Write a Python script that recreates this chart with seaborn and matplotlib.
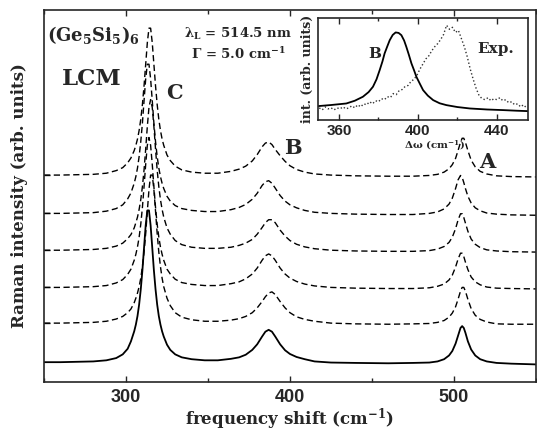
import matplotlib
matplotlib.use('Agg')
import matplotlib.pyplot as plt
import seaborn as sns
import numpy as np
from matplotlib.ticker import MultipleLocator, NullLocator

# frequency grid (cm-1) shared by all spectra of the main panel
shift = [250, 260, 270, 280, 288, 294, 298, 301, 303, 305,
         306, 307, 308, 309, 310, 311, 312, 313, 314, 315, 316, 317, 318, 319, 320, 321, 322, 323,
         325, 327, 330, 334, 340, 348, 356, 364, 369, 373,
         377, 380, 383, 385, 387, 389, 391, 394, 397, 400,
         404, 409, 415, 425, 440, 460, 475, 485, 490, 494,
         497, 499, 501, 502.5, 504, 505, 506, 507, 508.5, 510.5,
         513, 516, 520, 526, 535, 550]

solid = [0.53, 0.53, 0.54, 0.55, 0.58, 0.64, 0.74, 0.89, 1.09, 1.36,
         1.54, 1.77, 2.08, 2.49, 3.00, 3.61, 4.21, 4.61, 4.61, 4.21, 3.61, 3.00, 2.49, 2.08, 1.77, 1.54, 1.36, 1.22,
         1.00, 0.86, 0.74, 0.66, 0.61, 0.58, 0.58, 0.62, 0.66, 0.73,
         0.86, 1.01, 1.22, 1.35, 1.40, 1.35, 1.22, 1.01, 0.85, 0.75,
         0.67, 0.61, 0.55, 0.52, 0.51, 0.50, 0.51, 0.52, 0.55, 0.61,
         0.71, 0.83, 1.03, 1.24, 1.45, 1.50, 1.45, 1.32, 1.09, 0.87,
         0.71, 0.61, 0.55, 0.51, 0.49, 0.47]

dash1 = [0.53, 0.53, 0.54, 0.55, 0.58, 0.64, 0.71, 0.81, 0.91, 1.08,
         1.20, 1.34, 1.51, 1.74, 2.05, 2.44, 2.94, 3.54, 4.12, 4.51, 4.51, 4.12, 3.54, 2.94, 2.44, 2.05, 1.74, 1.51,
         1.20, 1.00, 0.81, 0.69, 0.62, 0.58, 0.58, 0.61, 0.65, 0.71,
         0.81, 0.94, 1.11, 1.24, 1.34, 1.37, 1.30, 1.11, 0.94, 0.81,
         0.70, 0.63, 0.58, 0.53, 0.51, 0.50, 0.51, 0.52, 0.55, 0.60,
         0.69, 0.80, 0.97, 1.17, 1.39, 1.49, 1.49, 1.39, 1.17, 0.92,
         0.74, 0.63, 0.56, 0.51, 0.50, 0.50]

dash2 = [0.53, 0.53, 0.54, 0.55, 0.58, 0.65, 0.74, 0.88, 1.02, 1.26,
         1.42, 1.62, 1.88, 2.23, 2.68, 3.24, 3.84, 4.35, 4.56, 4.35, 3.84, 3.24, 2.68, 2.23, 1.88, 1.62, 1.42, 1.26,
         1.02, 0.89, 0.75, 0.66, 0.61, 0.58, 0.58, 0.63, 0.68, 0.76,
         0.89, 1.05, 1.26, 1.38, 1.43, 1.38, 1.26, 1.05, 0.89, 0.78,
         0.69, 0.62, 0.57, 0.53, 0.51, 0.50, 0.50, 0.52, 0.56, 0.62,
         0.73, 0.86, 1.08, 1.29, 1.45, 1.45, 1.36, 1.21, 1.01, 0.81,
         0.68, 0.60, 0.54, 0.51, 0.50, 0.49]

dash3 = [0.53, 0.53, 0.54, 0.55, 0.58, 0.64, 0.72, 0.84, 0.95, 1.13,
         1.27, 1.42, 1.63, 1.89, 2.24, 2.69, 3.25, 3.86, 4.37, 4.58, 4.37, 3.86, 3.25, 2.69, 2.24, 1.89, 1.63, 1.42,
         1.13, 0.96, 0.79, 0.68, 0.61, 0.58, 0.58, 0.61, 0.66, 0.72,
         0.82, 0.96, 1.14, 1.27, 1.35, 1.35, 1.27, 1.07, 0.91, 0.79,
         0.69, 0.62, 0.57, 0.53, 0.51, 0.50, 0.50, 0.52, 0.56, 0.63,
         0.74, 0.88, 1.11, 1.34, 1.51, 1.51, 1.41, 1.26, 1.04, 0.83,
         0.69, 0.60, 0.54, 0.51, 0.49, 0.48]

dash4 = [0.53, 0.53, 0.54, 0.55, 0.59, 0.66, 0.76, 0.92, 1.08, 1.34,
         1.52, 1.75, 2.06, 2.46, 2.96, 3.56, 4.15, 4.54, 4.54, 4.15, 3.56, 2.96, 2.46, 2.06, 1.75, 1.52, 1.34, 1.20,
         0.99, 0.86, 0.74, 0.66, 0.61, 0.58, 0.58, 0.63, 0.69, 0.77,
         0.91, 1.07, 1.28, 1.38, 1.41, 1.34, 1.21, 1.01, 0.86, 0.76,
         0.68, 0.61, 0.56, 0.53, 0.51, 0.50, 0.50, 0.53, 0.57, 0.65,
         0.78, 0.94, 1.20, 1.43, 1.55, 1.50, 1.36, 1.20, 0.99, 0.81,
         0.68, 0.60, 0.54, 0.51, 0.49, 0.48]

dash5 = [0.53, 0.53, 0.54, 0.55, 0.58, 0.65, 0.73, 0.86, 0.99, 1.19,
         1.33, 1.50, 1.73, 2.03, 2.43, 2.93, 3.51, 4.09, 4.48, 4.48, 4.09, 3.51, 2.93, 2.43, 2.03, 1.73, 1.50, 1.33,
         1.07, 0.92, 0.77, 0.67, 0.61, 0.58, 0.58, 0.63, 0.69, 0.77,
         0.91, 1.08, 1.29, 1.39, 1.42, 1.35, 1.22, 1.05, 0.90, 0.78,
         0.68, 0.61, 0.56, 0.53, 0.51, 0.50, 0.50, 0.52, 0.55, 0.61,
         0.70, 0.81, 0.98, 1.19, 1.41, 1.52, 1.52, 1.41, 1.19, 0.93,
         0.75, 0.63, 0.56, 0.51, 0.49, 0.48]

dashed = [dash1, dash2, dash3, dash4, dash5]
offsets = [1.05, 2.01, 3.01, 4.00, 5.03]

# inset: calculated B peak and experimental spectrum
inset_shift = [349.3, 356, 363.7, 368, 372.1, 375, 377.2, 379, 380.6, 382,
               383.1, 384.5, 385.7, 387.2, 388.7, 390.2, 391.6, 393, 394.1, 395.4,
               396.7, 398, 399.2, 401, 402.6, 405, 407.7, 411, 414.4, 420,
               426.3, 435, 443.2, 450, 455.7]
inset_b = [0.137, 0.148, 0.163, 0.19, 0.229, 0.275, 0.327, 0.40, 0.49, 0.575,
           0.654, 0.725, 0.784, 0.835, 0.86, 0.855, 0.833, 0.78, 0.719, 0.64,
           0.556, 0.49, 0.425, 0.355, 0.294, 0.24, 0.196, 0.165, 0.147, 0.128,
           0.114, 0.104, 0.098, 0.092, 0.088]

exp_shift = [350, 351.5, 353, 354.5, 356, 357.5, 359, 360.5, 362, 363.5,
             365, 366.5, 368, 369.5, 371, 372.5, 374, 375.5, 377, 378.5,
             380, 381.5, 383, 384.5, 386, 387.5, 389, 390.5, 392, 393.5,
             395, 396.5, 398, 399.5, 401, 402.5, 404, 405.5, 407, 408.5,
             410, 411.5, 413, 414.5, 416, 417.5, 419, 420.5, 422, 423.5,
             425, 426.5, 428, 429.5, 431, 432.5, 434, 435.5, 437, 438.5,
             440, 441.5, 443, 444.5, 446, 447.5, 449, 450.5, 452, 453.5, 455]
exp_int = [0.12, 0.10, 0.13, 0.11, 0.12, 0.10, 0.12, 0.11, 0.13, 0.11,
           0.12, 0.14, 0.12, 0.15, 0.13, 0.16, 0.15, 0.18, 0.16, 0.19,
           0.18, 0.21, 0.20, 0.23, 0.22, 0.26, 0.25, 0.29, 0.30, 0.33,
           0.34, 0.38, 0.40, 0.44, 0.50, 0.55, 0.60, 0.63, 0.68, 0.72,
           0.75, 0.79, 0.84, 0.93, 0.89, 0.91, 0.86, 0.88, 0.80, 0.72,
           0.62, 0.50, 0.40, 0.31, 0.24, 0.21, 0.20, 0.22, 0.19, 0.21,
           0.20, 0.22, 0.19, 0.20, 0.17, 0.18, 0.15, 0.16, 0.13, 0.15, 0.12]

sns.set_style('ticks')
plt.rcParams['font.family'] = ['DejaVu Serif']
plt.rcParams['mathtext.fontset'] = 'dejavuserif'
plt.rcParams['mathtext.default'] = 'bf'
plt.rcParams['axes.linewidth'] = 1.2

fig = plt.figure(figsize=(5.37, 4.32), dpi=100)
ax = fig.add_axes([0.082, 0.116, 0.916, 0.861])

sns.lineplot(x=shift, y=solid, ax=ax, color='black', linewidth=1.3,
             sort=False, estimator=None)
for off, ys in zip(offsets, dashed):
    sns.lineplot(x=shift, y=np.array(ys) + off, ax=ax, color='black', linewidth=1.0,
                 linestyle=(0, (4.5, 2.5)), sort=False, estimator=None)

ax.set_xlim(250, 550)
ax.set_ylim(0, 10)
ax.xaxis.set_major_locator(MultipleLocator(100))
ax.xaxis.set_minor_locator(MultipleLocator(50))
ax.set_yticks([0.53 + o for o in offsets])
ax.set_yticklabels([])
ax.tick_params(axis='x', which='both', direction='in', top=True, width=1.0, pad=5)
ax.tick_params(axis='x', which='major', length=4.5)
ax.tick_params(axis='x', which='minor', length=3)
ax.tick_params(axis='y', direction='in', length=4, width=1.0)
for lab in ax.get_xticklabels():
    lab.set_fontfamily('Liberation Sans')
    lab.set_fontweight('bold')
    lab.set_fontsize(13)

ax.set_xlabel('frequency shift (cm$^{-1}$)', fontsize=12, fontweight='bold', labelpad=0)
ax.set_ylabel('Raman intensity (arb. units)', fontsize=12, fontweight='bold', labelpad=8)

ax.text(252, 9.62, '(Ge$_5$Si$_5$)$_6$', fontsize=13, fontweight='bold', ha='left', va='top')
ax.text(261, 8.44, 'LCM', fontsize=16.5, fontweight='bold', ha='left', va='top')
ax.text(324.4, 8.04, 'C', fontsize=15, fontweight='bold', ha='left', va='top')
ax.text(396.3, 6.56, 'B', fontsize=15, fontweight='bold', ha='left', va='top')
ax.text(515.2, 6.18, 'A', fontsize=15, fontweight='bold', ha='left', va='top')
ax.text(335.4, 9.56, r'$\lambda_L$ = 514.5 nm', fontsize=9.5, fontweight='bold', ha='left', va='top')
ax.text(339.6, 9.03, r'$\Gamma$ = 5.0 cm$^{-1}$', fontsize=9.5, fontweight='bold', ha='left', va='top')

# inset
axi = fig.add_axes([0.592, 0.722, 0.391, 0.236])
sns.lineplot(x=inset_shift, y=inset_b, ax=axi, color='black', linewidth=1.3,
             sort=False, estimator=None)
sns.lineplot(x=exp_shift, y=exp_int, ax=axi, color='0.2', linewidth=1.0,
             linestyle=':', sort=False, estimator=None)
axi.set_xlim(349.3, 455.7)
axi.set_ylim(0, 1)
axi.xaxis.set_major_locator(MultipleLocator(40))
axi.xaxis.set_minor_locator(MultipleLocator(20))
axi.yaxis.set_major_locator(NullLocator())
axi.tick_params(axis='x', which='both', direction='in', top=True, width=1.0, pad=3)
axi.tick_params(axis='x', which='major', length=4)
axi.tick_params(axis='x', which='minor', length=2.5)
for lab in axi.get_xticklabels():
    lab.set_fontfamily('Liberation Sans')
    lab.set_fontweight('bold')
    lab.set_fontsize(11)
axi.set_xlabel(r'$\Delta\omega$ (cm$^{-1}$)', fontsize=7.5, fontweight='bold')
axi.xaxis.set_label_coords(0.555, -0.185)
axi.set_ylabel('int. (arb. units)', fontsize=9, fontweight='bold', labelpad=3)
axi.text(374.6, 0.72, 'B', fontsize=11, fontweight='bold', ha='left', va='top')
axi.text(430.3, 0.77, 'Exp.', fontsize=11, fontweight='bold', ha='left', va='top')

fig.savefig('out.png', dpi=100)
